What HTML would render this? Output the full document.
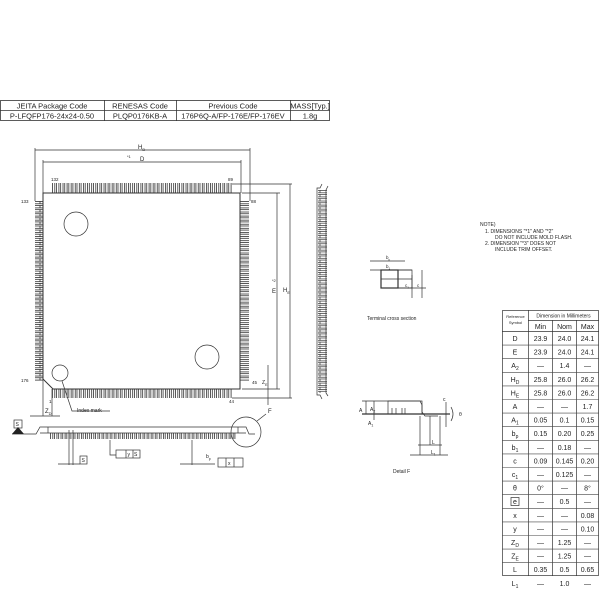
<!DOCTYPE html>
<html><head><meta charset="utf-8"><style>
html,body{margin:0;padding:0;background:#fff;}
svg{display:block;font-family:"Liberation Sans",sans-serif;}
text{fill:#222;}
</style></head><body>
<svg width="600" height="600" viewBox="0 0 600 600" xmlns="http://www.w3.org/2000/svg">
<defs>
<pattern id="ph" x="52" y="0" width="4.1" height="20" patternUnits="userSpaceOnUse"><rect x="0.4" y="0" width="2.4" height="20" fill="none" stroke="#333" stroke-width="0.8"/></pattern>
<pattern id="pv" x="0" y="201" width="20" height="4.1" patternUnits="userSpaceOnUse"><rect x="0" y="0.4" width="20" height="2.4" fill="none" stroke="#333" stroke-width="0.8"/></pattern>
<pattern id="ps" x="0" y="190" width="20" height="4.1" patternUnits="userSpaceOnUse"><rect x="0" y="0.4" width="20" height="2.4" fill="none" stroke="#333" stroke-width="0.7"/></pattern>
<pattern id="pb" x="50" y="0" width="4.1" height="20" patternUnits="userSpaceOnUse"><rect x="0.4" y="0" width="2.4" height="20" fill="none" stroke="#333" stroke-width="0.8"/></pattern>
</defs>
<g stroke="#333" fill="none" stroke-width="0.8">
<!-- header table -->
<rect x="0.5" y="100.5" width="329" height="20"/>
<line x1="0" y1="110.5" x2="330" y2="110.5"/>
<line x1="104.5" y1="100" x2="104.5" y2="121"/>
<line x1="176.5" y1="100" x2="176.5" y2="121"/>
<line x1="290.5" y1="100" x2="290.5" y2="121"/>
</g>
<g font-size="7.5" text-anchor="middle">
<text x="52" y="108.5">JEITA Package Code</text>
<text x="140" y="108.5">RENESAS Code</text>
<text x="233" y="108.5">Previous Code</text>
<text x="310" y="108.5">MASS[Typ.]</text>
<text x="52" y="118.5">P-LFQFP176-24x24-0.50</text>
<text x="140" y="118.5">PLQP0176KB-A</text>
<text x="233" y="118.5">176P6Q-A/FP-176E/FP-176EV</text>
<text x="310" y="118.5">1.8g</text>
</g>

<g stroke="#333" fill="none" stroke-width="0.7">
<!-- HD / D dimension lines -->
<line x1="35" y1="150" x2="250" y2="150"/>
<line x1="35" y1="148" x2="35" y2="201"/>
<line x1="250" y1="148" x2="250" y2="201"/>
<line x1="43" y1="162" x2="241" y2="162"/>
<line x1="43" y1="160" x2="43" y2="193"/>
<line x1="241" y1="160" x2="241" y2="193"/>
<!-- right E / HE dim -->
<line x1="232" y1="184" x2="292" y2="184"/>
<line x1="242" y1="193" x2="280" y2="193"/>
<line x1="242" y1="389" x2="280" y2="389"/>
<line x1="232" y1="398" x2="292" y2="398"/>
<line x1="277" y1="193" x2="277" y2="389"/>
<line x1="290" y1="184" x2="290" y2="398"/>
<line x1="268" y1="365" x2="268" y2="405"/>
<!-- body -->
<path d="M43,193 H240 V389 H53 L43,379 Z" stroke-width="1"/>
<circle cx="76" cy="224" r="12"/>
<circle cx="207" cy="357" r="12"/>
<circle cx="60" cy="373" r="8"/>
<!-- index mark leader -->
<path d="M62,381 L72,411 H110"/>
<line x1="43" y1="379" x2="43" y2="416"/>
<line x1="52" y1="389" x2="52" y2="416"/>
<line x1="30" y1="416" x2="60" y2="416"/>
</g>
<rect x="52" y="183" width="180" height="10" fill="url(#ph)"/>
<rect x="52" y="389" width="180" height="9" fill="url(#ph)"/>
<rect x="35" y="201" width="8" height="180" fill="url(#pv)"/>
<rect x="240" y="201" width="9" height="180" fill="url(#pv)"/>
<g font-size="4.5">
<text x="51" y="181">132</text><text x="228" y="181">89</text>
<text x="21" y="203">133</text><text x="251" y="203">88</text>
<text x="21" y="382">176</text><text x="49" y="403">1</text><text x="229" y="403">44</text>
<text x="252" y="384">45</text>
</g>
<g font-size="6">
<text x="138" y="149">H<tspan font-size="4" dy="2">D</tspan></text>
<text x="140" y="161">D</text><text x="127" y="158" font-size="4">*1</text>
<text x="272" y="293">E</text><text x="272" y="282" font-size="4">*2</text>
<text x="283" y="292">H<tspan font-size="4" dy="2">E</tspan></text>
<text x="45" y="413">Z<tspan font-size="4" dy="2">D</tspan></text>
<text x="262" y="384" font-size="5">Z<tspan font-size="3.5" dy="2">E</tspan></text>
<text x="77" y="412" font-size="5">Index mark</text>
</g>

<!-- side view right -->
<g stroke="#333" fill="none" stroke-width="0.7">
<path d="M322,184 L320,188 H317 V395 H320 L322,399"/>
<path d="M328,186 L326,190 V393 L328,396"/>
</g>
<rect x="318" y="190" width="9" height="203" fill="url(#ps)"/>

<!-- bottom side view -->
<g stroke="#333" fill="none" stroke-width="0.7">
<path d="M12,434 H36 L40,427 H246 L249,434 H255"/>
<line x1="40" y1="433" x2="246" y2="433"/>
<line x1="48" y1="427" x2="48" y2="433"/>
<line x1="238" y1="427" x2="238" y2="433"/>
<circle cx="246" cy="432" r="15"/>
<path d="M257,421 L266,414"/>
<line x1="69" y1="430" x2="69" y2="465"/>
<line x1="73" y1="430" x2="73" y2="465"/>
<line x1="58" y1="464" x2="80" y2="464"/>
<rect x="80" y="456" width="7" height="8"/>
<path d="M110,440 V455 H116"/>
<rect x="116" y="450" width="24" height="8"/>
<line x1="126" y1="450" x2="126" y2="458"/><line x1="133" y1="450" x2="133" y2="458"/>
<line x1="192" y1="440" x2="192" y2="465"/>
<line x1="180" y1="464" x2="215" y2="464"/>
<rect x="218" y="458" width="25" height="9"/>
<line x1="226" y1="458" x2="226" y2="467"/><line x1="234" y1="458" x2="234" y2="467"/>
<rect x="14" y="420" width="8" height="8"/>
</g>
<rect x="50" y="433" width="186" height="6" fill="url(#pb)"/>
<path d="M12,434 L18,427 L24,434 Z" fill="#222"/>
<g font-size="5">
<text x="15.5" y="426">S</text><text x="81.5" y="462">S</text>
<text x="127.5" y="456">y</text><text x="134" y="456">S</text>
<text x="228" y="465">x</text><text x="206" y="458">b<tspan font-size="3.5" dy="2">p</tspan></text>
<text x="268" y="413" font-size="6">F</text>
</g>

<!-- terminal cross section -->
<g stroke="#333" fill="none" stroke-width="0.7">
<rect x="381" y="270" width="17" height="18" stroke-width="1.2"/>
<line x1="381" y1="279" x2="412" y2="279"/>
<line x1="398" y1="270" x2="398" y2="288"/>
<path d="M398,270 H412 V288 H398"/>
<line x1="370" y1="261" x2="405" y2="261"/>
<line x1="370" y1="270" x2="412" y2="270"/>
<line x1="412" y1="275" x2="412" y2="298"/>
<line x1="422" y1="270" x2="422" y2="298"/>
<line x1="398" y1="288" x2="426" y2="288"/>
</g>
<g font-size="4.5">
<text x="386" y="259">b<tspan font-size="3" dy="1.5">p</tspan></text>
<text x="386" y="268">b<tspan font-size="3" dy="1.5">1</tspan></text>
<text x="405" y="287">c<tspan font-size="3" dy="1.5">1</tspan></text>
<text x="417" y="287">c</text>
<text x="367" y="320" font-size="5">Terminal cross section</text>
</g>

<!-- detail F -->
<g stroke="#333" fill="none" stroke-width="0.7">
<path d="M362,401 H420 L422,405 V412 L425,416 H438"/>
<line x1="362" y1="414" x2="450" y2="414" stroke-width="1.2"/>
<rect x="388" y="401" width="34" height="13"/>
<line x1="392" y1="408" x2="392" y2="414"/><line x1="396" y1="408" x2="396" y2="414"/>
<line x1="402" y1="408" x2="402" y2="414"/><line x1="405" y1="408" x2="405" y2="414"/>
<line x1="374" y1="401" x2="374" y2="420"/>
<line x1="366" y1="401" x2="366" y2="414"/>
<line x1="420" y1="416" x2="420" y2="455"/>
<line x1="430" y1="416" x2="430" y2="445"/>
<line x1="440" y1="416" x2="440" y2="455"/>
<line x1="418" y1="445" x2="442" y2="445"/>
<line x1="410" y1="455" x2="448" y2="455"/>
<path d="M451,407 Q455,414 451,421"/>
<line x1="446" y1="402" x2="446" y2="427"/>
</g>
<g font-size="5">
<text x="359" y="412">A</text><text x="370" y="411">A<tspan font-size="3.5" dy="1.5">2</tspan></text>
<text x="368" y="425">A<tspan font-size="3.5" dy="1.5">1</tspan></text>
<text x="432" y="444">L</text><text x="431" y="454">L<tspan font-size="3.5" dy="1.5">1</tspan></text>
<text x="459" y="416">θ</text><text x="443" y="401">c</text>
<text x="393" y="473">Detail F</text>
</g>

<!-- notes -->
<g font-size="5">
<text x="480" y="226">NOTE)</text>
<text x="485" y="233">1.  DIMENSIONS "*1" AND "*2"</text>
<text x="495" y="239">DO NOT INCLUDE MOLD FLASH.</text>
<text x="485" y="245">2.  DIMENSION "*3" DOES NOT</text>
<text x="495" y="251">INCLUDE TRIM OFFSET.</text>
</g>

<!-- dimension table -->
<g stroke="#333" fill="none" stroke-width="0.7">
<rect x="502.5" y="310.5" width="96" height="265"/>
<line x1="528.5" y1="310" x2="528.5" y2="576"/>
<line x1="552.5" y1="320" x2="552.5" y2="576"/>
<line x1="576.5" y1="320" x2="576.5" y2="576"/>
<line x1="528" y1="320.5" x2="599" y2="320.5"/>
<line x1="502" y1="331.5" x2="599" y2="331.5"/>
</g>
<g font-size="4" text-anchor="middle">
<text x="515.5" y="318">Reference</text><text x="515.5" y="324">Symbol</text>
<text x="563.5" y="317.5" font-size="5">Dimension in Millimeters</text>
</g>
<g font-size="7" text-anchor="middle" id="t">
<text x="540.5" y="329">Min</text><text x="564.5" y="329">Nom</text><text x="587.5" y="329">Max</text>
</g>
<g font-size="7" text-anchor="middle" stroke="none">
<!-- rows: step 13.6 starting 331 -->
<g transform="translate(0,331)">
<text x="515" y="10">D</text><text x="540.5" y="10">23.9</text><text x="564.5" y="10">24.0</text><text x="587.5" y="10">24.1</text>
<text x="515" y="23.6">E</text><text x="540.5" y="23.6">23.9</text><text x="564.5" y="23.6">24.0</text><text x="587.5" y="23.6">24.1</text>
<text x="515" y="37.2">A<tspan font-size="5" dy="2">2</tspan></text><text x="540.5" y="37.2">—</text><text x="564.5" y="37.2">1.4</text><text x="587.5" y="37.2">—</text>
<text x="515" y="50.8">H<tspan font-size="5" dy="2">D</tspan></text><text x="540.5" y="50.8">25.8</text><text x="564.5" y="50.8">26.0</text><text x="587.5" y="50.8">26.2</text>
<text x="515" y="64.4">H<tspan font-size="5" dy="2">E</tspan></text><text x="540.5" y="64.4">25.8</text><text x="564.5" y="64.4">26.0</text><text x="587.5" y="64.4">26.2</text>
<text x="515" y="78">A</text><text x="540.5" y="78">—</text><text x="564.5" y="78">—</text><text x="587.5" y="78">1.7</text>
<text x="515" y="91.6">A<tspan font-size="5" dy="2">1</tspan></text><text x="540.5" y="91.6">0.05</text><text x="564.5" y="91.6">0.1</text><text x="587.5" y="91.6">0.15</text>
<text x="515" y="105.2">b<tspan font-size="5" dy="2">p</tspan></text><text x="540.5" y="105.2">0.15</text><text x="564.5" y="105.2">0.20</text><text x="587.5" y="105.2">0.25</text>
<text x="515" y="118.8">b<tspan font-size="5" dy="2">1</tspan></text><text x="540.5" y="118.8">—</text><text x="564.5" y="118.8">0.18</text><text x="587.5" y="118.8">—</text>
<text x="515" y="132.4">c</text><text x="540.5" y="132.4">0.09</text><text x="564.5" y="132.4">0.145</text><text x="587.5" y="132.4">0.20</text>
<text x="515" y="146">c<tspan font-size="5" dy="2">1</tspan></text><text x="540.5" y="146">—</text><text x="564.5" y="146">0.125</text><text x="587.5" y="146">—</text>
<text x="515" y="159.6">θ</text><text x="540.5" y="159.6">0°</text><text x="564.5" y="159.6">—</text><text x="587.5" y="159.6">8°</text>
<text x="515" y="173.2">e</text><text x="540.5" y="173.2">—</text><text x="564.5" y="173.2">0.5</text><text x="587.5" y="173.2">—</text>
<text x="515" y="186.8">x</text><text x="540.5" y="186.8">—</text><text x="564.5" y="186.8">—</text><text x="587.5" y="186.8">0.08</text>
<text x="515" y="200.4">y</text><text x="540.5" y="200.4">—</text><text x="564.5" y="200.4">—</text><text x="587.5" y="200.4">0.10</text>
<text x="515" y="214">Z<tspan font-size="5" dy="2">D</tspan></text><text x="540.5" y="214">—</text><text x="564.5" y="214">1.25</text><text x="587.5" y="214">—</text>
<text x="515" y="227.6">Z<tspan font-size="5" dy="2">E</tspan></text><text x="540.5" y="227.6">—</text><text x="564.5" y="227.6">1.25</text><text x="587.5" y="227.6">—</text>
<text x="515" y="241.2">L</text><text x="540.5" y="241.2">0.35</text><text x="564.5" y="241.2">0.5</text><text x="587.5" y="241.2">0.65</text>
<text x="515" y="254.8">L<tspan font-size="5" dy="2">1</tspan></text><text x="540.5" y="254.8">—</text><text x="564.5" y="254.8">1.0</text><text x="587.5" y="254.8">—</text>
</g>
</g>
<rect x="511" y="497.5" width="8" height="8" fill="none" stroke="#333" stroke-width="0.7"/>
<g stroke="#444" stroke-width="0.6">
<line x1="502" y1="345.1" x2="599" y2="345.1"/><line x1="502" y1="358.7" x2="599" y2="358.7"/>
<line x1="502" y1="372.3" x2="599" y2="372.3"/><line x1="502" y1="385.9" x2="599" y2="385.9"/>
<line x1="502" y1="399.5" x2="599" y2="399.5"/><line x1="502" y1="413.1" x2="599" y2="413.1"/>
<line x1="502" y1="426.7" x2="599" y2="426.7"/><line x1="502" y1="440.3" x2="599" y2="440.3"/>
<line x1="502" y1="453.9" x2="599" y2="453.9"/><line x1="502" y1="467.5" x2="599" y2="467.5"/>
<line x1="502" y1="481.1" x2="599" y2="481.1"/><line x1="502" y1="494.7" x2="599" y2="494.7"/>
<line x1="502" y1="508.3" x2="599" y2="508.3"/><line x1="502" y1="521.9" x2="599" y2="521.9"/>
<line x1="502" y1="535.5" x2="599" y2="535.5"/><line x1="502" y1="549.1" x2="599" y2="549.1"/>
<line x1="502" y1="562.7" x2="599" y2="562.7"/>
</g>
</svg>
</body></html>
